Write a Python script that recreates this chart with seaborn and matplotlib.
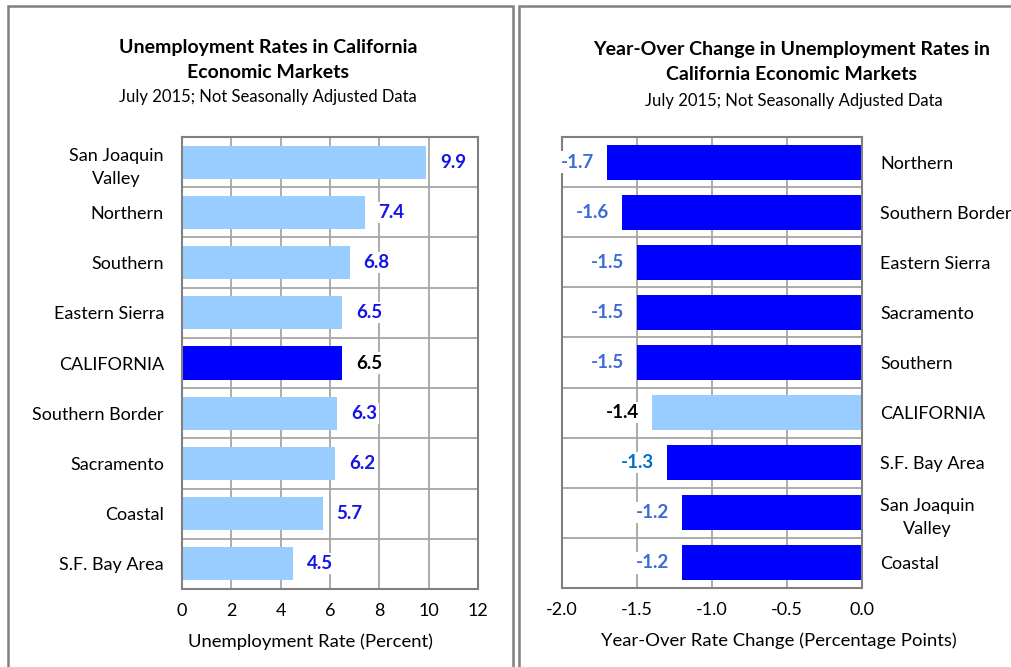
import numpy as np
import pandas as pd
import seaborn as sns
import matplotlib.pyplot as plt
from matplotlib.patches import Rectangle

sns.set_style("white")
plt.rcParams['font.family'] = ['Lato', 'DejaVu Sans']
plt.rcParams['text.color'] = 'black'
plt.rcParams['xtick.color'] = 'black'
plt.rcParams['ytick.color'] = 'black'

# ---- data ----
rate_regions = ["San Joaquin\nValley", "Northern", "Southern", "Eastern Sierra", "CALIFORNIA",
                "Southern Border", "Sacramento", "Coastal", "S.F. Bay Area"]
rate_values = [9.9, 7.4, 6.8, 6.5, 6.5, 6.3, 6.2, 5.7, 4.5]

change_regions = ["Northern", "Southern Border", "Eastern Sierra", "Sacramento", "Southern",
                  "CALIFORNIA", "S.F. Bay Area", "San Joaquin\nValley", "Coastal"]
change_values = [-1.7, -1.6, -1.5, -1.5, -1.5, -1.4, -1.3, -1.2, -1.2]

light = "#99CCFF"
dark = "#0000FF"
grid_c = "#A6A6A6"
spine_c = "#808080"

fig = plt.figure(figsize=(10.12, 6.67), dpi=100)

# panel frames
fig.patches.append(Rectangle((8/1012, -0.05), 505/1012, 1.05 - 6/667, transform=fig.transFigure,
                             fill=False, edgecolor=spine_c, linewidth=1.8))
fig.patches.append(Rectangle((519/1012, -0.05), 0.6, 1.05 - 6/667, transform=fig.transFigure,
                             fill=False, edgecolor=spine_c, linewidth=1.8))


def style_axes(ax, xticks):
    ax.set_axisbelow(True)
    ax.set_xticks(xticks)
    ax.set_yticks(np.arange(-0.5, 9, 1), minor=True)
    ax.grid(axis='x', which='major', color=grid_c, linewidth=1.3)
    ax.grid(axis='y', which='minor', color=grid_c, linewidth=1.3)
    ax.tick_params(which='both', length=0)
    ax.tick_params(axis='x', labelsize=13, pad=10)
    ax.tick_params(axis='y', labelsize=13, pad=13)
    for s in ax.spines.values():
        s.set_visible(True)
        s.set_color(spine_c)
        s.set_linewidth(1.5)
    ax.set_xlabel("")
    ax.set_ylabel("")


# ---- left: unemployment rates ----
ax1 = fig.add_axes([182/1012, 1 - 589/667, 296/1012, 452/667])
df1 = pd.DataFrame({"region": rate_regions, "rate": rate_values})
pal1 = [dark if r == "CALIFORNIA" else light for r in rate_regions]
sns.barplot(data=df1, y="region", x="rate", hue="region", palette=pal1, legend=False,
            width=0.66, edgecolor="none", saturation=1, ax=ax1)
ax1.set_xlim(0, 12)
ax1.set_ylim(8.5, -0.5)
style_axes(ax1, np.arange(0, 13, 2))
for lab in ax1.get_yticklabels():
    lab.set_multialignment('center')
    lab.set_linespacing(1.55)
for i, (r, v) in enumerate(zip(rate_regions, rate_values)):
    ax1.annotate(f"{v:.1f}", xy=(v, i), xytext=(10, 0), textcoords="offset points",
                 ha="left", va="center", fontsize=13.5, fontweight="bold",
                 color="black" if r == "CALIFORNIA" else "#1414E6",
                 bbox=dict(facecolor="white", edgecolor="none", pad=1.5))

# ---- right: year-over change ----
ax2 = fig.add_axes([562/1012, 1 - 588/667, 300/1012, 451/667])
df2 = pd.DataFrame({"region": change_regions, "change": change_values})
pal2 = [light if r == "CALIFORNIA" else dark for r in change_regions]
sns.barplot(data=df2, y="region", x="change", hue="region", palette=pal2, legend=False,
            width=0.7, edgecolor="none", saturation=1, ax=ax2)
ax2.set_xlim(-2.0, 0.0)
ax2.set_ylim(8.5, -0.5)
style_axes(ax2, np.arange(-2.0, 0.01, 0.5))
ax2.set_xticklabels([f"{t:.1f}" for t in np.arange(-2.0, 0.01, 0.5)])
ax2.yaxis.tick_right()
for lab in ax2.get_yticklabels():
    lab.set_multialignment('center')
    lab.set_linespacing(1.55)
for i, (r, v) in enumerate(zip(change_regions, change_values)):
    if r == "CALIFORNIA":
        c = "black"
    elif r == "S.F. Bay Area":
        c = "#0070C0"
    else:
        c = "#3A6BD6"
    ax2.annotate(f"{v:.1f}", xy=(v, i), xytext=(-9, 0), textcoords="offset points",
                 ha="right", va="center", fontsize=13.5, fontweight="bold", color=c,
                 bbox=dict(facecolor="white", edgecolor="none", pad=1.5))

# ---- titles and axis labels ----
fig.text(268/1012, 1 - 48/667, "Unemployment Rates in California", ha="center", va="center",
         fontsize=14, fontweight="bold")
fig.text(268/1012, 1 - 73/667, "Economic Markets", ha="center", va="center",
         fontsize=14, fontweight="bold")
fig.text(268/1012, 1 - 97/667, "July 2015; Not Seasonally Adjusted Data", ha="center", va="center",
         fontsize=12)

fig.text(792/1012, 1 - 49/667, "Year-Over Change in Unemployment Rates in", ha="center", va="center",
         fontsize=14, fontweight="bold")
fig.text(792/1012, 1 - 75/667, "California Economic Markets", ha="center", va="center",
         fontsize=14, fontweight="bold")
fig.text(794/1012, 1 - 101/667, "July 2015; Not Seasonally Adjusted Data", ha="center", va="center",
         fontsize=12)

fig.text(311/1012, 1 - 642/667, "Unemployment Rate (Percent)", ha="center", va="center", fontsize=13.3)
fig.text(779/1012, 1 - 641/667, "Year-Over Rate Change (Percentage Points)", ha="center", va="center",
         fontsize=13.3)

fig.savefig("out.png", dpi=100)
